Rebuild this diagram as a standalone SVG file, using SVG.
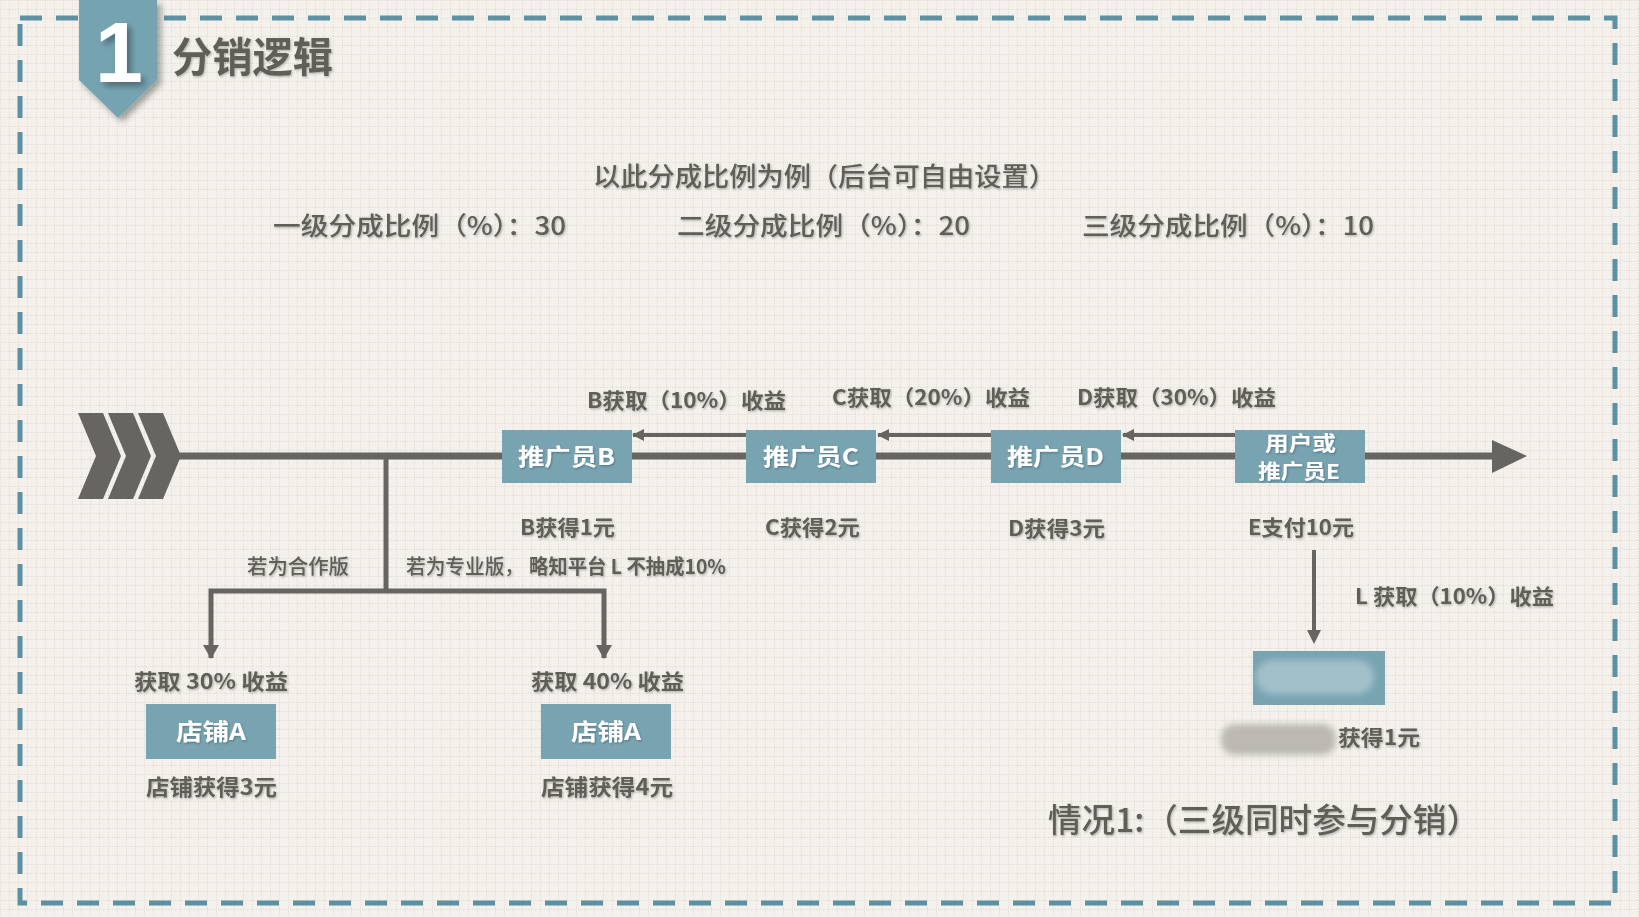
<svg xmlns="http://www.w3.org/2000/svg" width="1639" height="917" viewBox="0 0 1639 917">
<defs>
<pattern id="grid" width="9" height="9" patternUnits="userSpaceOnUse">
<rect width="9" height="9" fill="#f4f1ec"/>
<path d="M0 0.5 H9 M0.5 0 V9" stroke="#e2ded8" stroke-width="1" stroke-dasharray="1 1" fill="none"/>
</pattern>
<filter id="ts" x="-5%" y="-20%" width="110%" height="140%">
<feDropShadow dx="1" dy="1.2" stdDeviation="0.8" flood-color="#000" flood-opacity="0.28"/>
</filter>
<filter id="bs" x="-30%" y="-30%" width="160%" height="160%">
<feDropShadow dx="4" dy="4" stdDeviation="3" flood-color="#000" flood-opacity="0.35"/>
</filter>
<filter id="blur" x="-20%" y="-40%" width="140%" height="180%">
<feGaussianBlur stdDeviation="3"/>
</filter>
<marker id="ah" markerWidth="12" markerHeight="12" refX="11" refY="6" orient="auto" markerUnits="userSpaceOnUse">
<path d="M0,0 L12,6 L0,12 Z" fill="#66655f"/>
</marker>
<style>
.t{font-family:"Noto Sans CJK SC","Liberation Sans",sans-serif;fill:#5f5e59;filter:url(#ts)}
.b{font-weight:700}
.r{font-weight:500}
.box{fill:#78a4b2}
.bt{font-family:"Noto Sans CJK SC","Liberation Sans",sans-serif;fill:#ffffff;font-weight:700;filter:url(#ts)}
.ln{stroke:#66655f;fill:none}
</style>
</defs>
<rect width="1639" height="917" fill="url(#grid)"/>
<rect x="20" y="18" width="1595" height="885" fill="none" stroke="#5b91a3" stroke-width="5" stroke-dasharray="22 14"/>

<g id="badge">
<path d="M79,0 H157 V80 L118,118 L79,80 Z" fill="#76a3b2" filter="url(#bs)"/>
<text x="119" y="82" text-anchor="middle" font-family="Liberation Sans, sans-serif" font-weight="700" font-size="86" fill="#ffffff" filter="url(#bs)">1</text>
</g>
<g id="title">
<text class="t b" x="172" y="72" font-size="41" textLength="161" lengthAdjust="spacingAndGlyphs">分销逻辑</text>
</g>

<g id="ratios">
<text class="t r" x="593" y="186" font-size="26" textLength="463" lengthAdjust="spacingAndGlyphs">以此分成比例为例（后台可自由设置）</text>
<text class="t r" x="273" y="235" font-size="25" textLength="293" lengthAdjust="spacingAndGlyphs">一级分成比例（%）：30</text>
<text class="t r" x="677" y="235" font-size="25" textLength="293" lengthAdjust="spacingAndGlyphs">二级分成比例（%）：20</text>
<text class="t r" x="1082" y="235" font-size="25" textLength="292" lengthAdjust="spacingAndGlyphs">三级分成比例（%）：10</text>
</g>

<g id="connectors">
<line class="ln" x1="178" y1="456" x2="1495" y2="456" stroke-width="7"/>
<path d="M1492,440 L1527,456 L1492,473 Z" fill="#66655f"/>
<line class="ln" x1="746" y1="435" x2="633" y2="435" stroke-width="4" marker-end="url(#ah)"/>
<line class="ln" x1="991" y1="435" x2="878" y2="435" stroke-width="4" marker-end="url(#ah)"/>
<line class="ln" x1="1236" y1="435" x2="1123" y2="435" stroke-width="4" marker-end="url(#ah)"/>
<path class="ln" d="M386,456 V591" stroke-width="5"/>
<path class="ln" d="M211,658 V591 H604 V658" stroke-width="5" stroke-linejoin="miter"/>
<path d="M203,645 L219,645 L211,659 Z" fill="#66655f"/>
<path d="M596,645 L612,645 L604,659 Z" fill="#66655f"/>
<line class="ln" x1="1314" y1="550" x2="1314" y2="632" stroke-width="4"/>
<path d="M1307,630 L1321,630 L1314,644 Z" fill="#66655f"/>
</g>

<g id="chevrons" fill="#66655f">
<path d="M78,413 H103 L121,456 L103,499 H78 L96,456 Z"/>
<path d="M108,413 H133 L151,456 L133,499 H108 L126,456 Z"/>
<path d="M138,413 H163 L181,456 L163,499 H138 L156,456 Z"/>
</g>

<g id="promoterB">
<rect class="box" x="502" y="430" width="130" height="53"/>
<text class="bt" x="518" y="465" font-size="23" textLength="97" lengthAdjust="spacingAndGlyphs">推广员B</text>
<text class="t b" x="587" y="408" font-size="21" textLength="199" lengthAdjust="spacingAndGlyphs">B获取（10%）收益</text>
<text class="t b" x="520" y="535" font-size="21" textLength="95" lengthAdjust="spacingAndGlyphs">B获得1元</text>
</g>
<g id="promoterC">
<rect class="box" x="746" y="430" width="130" height="53"/>
<text class="bt" x="763" y="465" font-size="23" textLength="96" lengthAdjust="spacingAndGlyphs">推广员C</text>
<text class="t b" x="832" y="405" font-size="21" textLength="198" lengthAdjust="spacingAndGlyphs">C获取（20%）收益</text>
<text class="t b" x="765" y="535" font-size="21" textLength="95" lengthAdjust="spacingAndGlyphs">C获得2元</text>
</g>
<g id="promoterD">
<rect class="box" x="991" y="430" width="130" height="53"/>
<text class="bt" x="1007" y="465" font-size="23" textLength="97" lengthAdjust="spacingAndGlyphs">推广员D</text>
<text class="t b" x="1077" y="405" font-size="21" textLength="199" lengthAdjust="spacingAndGlyphs">D获取（30%）收益</text>
<text class="t b" x="1008" y="536" font-size="21" textLength="97" lengthAdjust="spacingAndGlyphs">D获得3元</text>
</g>
<g id="userE">
<rect class="box" x="1235" y="430" width="130" height="53"/>
<text class="bt" x="1265" y="451" font-size="20" textLength="71" lengthAdjust="spacingAndGlyphs">用户或</text>
<text class="bt" x="1258" y="479" font-size="20" textLength="82" lengthAdjust="spacingAndGlyphs">推广员E</text>
<text class="t b" x="1248" y="535" font-size="21" textLength="106" lengthAdjust="spacingAndGlyphs">E支付10元</text>
</g>

<g id="platformL">
<text class="t b" x="1355" y="604" font-size="21" textLength="199" lengthAdjust="spacingAndGlyphs">L 获取（10%）收益</text>
<rect class="box" x="1253" y="651" width="132" height="54"/>
<rect x="1256" y="660" width="118" height="34" rx="17" fill="#a2c0ca" filter="url(#blur)"/>
<rect x="1221" y="724" width="115" height="31" rx="14" fill="#bcb9b3" filter="url(#blur)"/>
<text class="t b" x="1338" y="745" font-size="21" textLength="82" lengthAdjust="spacingAndGlyphs">获得1元</text>
</g>

<g id="branchLabels">
<text class="t r" x="247" y="574" font-size="20" textLength="102" lengthAdjust="spacingAndGlyphs">若为合作版</text>
<text class="t r" x="406" y="574" font-size="20" textLength="118" lengthAdjust="spacingAndGlyphs">若为专业版，</text>
<text class="t b" x="529" y="574" font-size="20" textLength="197" lengthAdjust="spacingAndGlyphs">略知平台 L 不抽成10%</text>
</g>

<g id="shopA1">
<text class="t b" x="134" y="689" font-size="21" textLength="154" lengthAdjust="spacingAndGlyphs">获取 30%  收益</text>
<rect class="box" x="146" y="704" width="130" height="55"/>
<text class="bt" x="176" y="740" font-size="23" textLength="70" lengthAdjust="spacingAndGlyphs">店铺A</text>
<text class="t b" x="146" y="795" font-size="22" textLength="131" lengthAdjust="spacingAndGlyphs">店铺获得3元</text>
</g>
<g id="shopA2">
<text class="t b" x="531" y="689" font-size="21" textLength="153" lengthAdjust="spacingAndGlyphs">获取 40%  收益</text>
<rect class="box" x="541" y="704" width="130" height="55"/>
<text class="bt" x="571" y="740" font-size="23" textLength="70" lengthAdjust="spacingAndGlyphs">店铺A</text>
<text class="t b" x="541" y="795" font-size="22" textLength="132" lengthAdjust="spacingAndGlyphs">店铺获得4元</text>
</g>

<g id="caption">
<text class="t r" x="1048" y="832" font-size="33" textLength="432" lengthAdjust="spacingAndGlyphs">情况1:（三级同时参与分销）</text>
</g>
</svg>
